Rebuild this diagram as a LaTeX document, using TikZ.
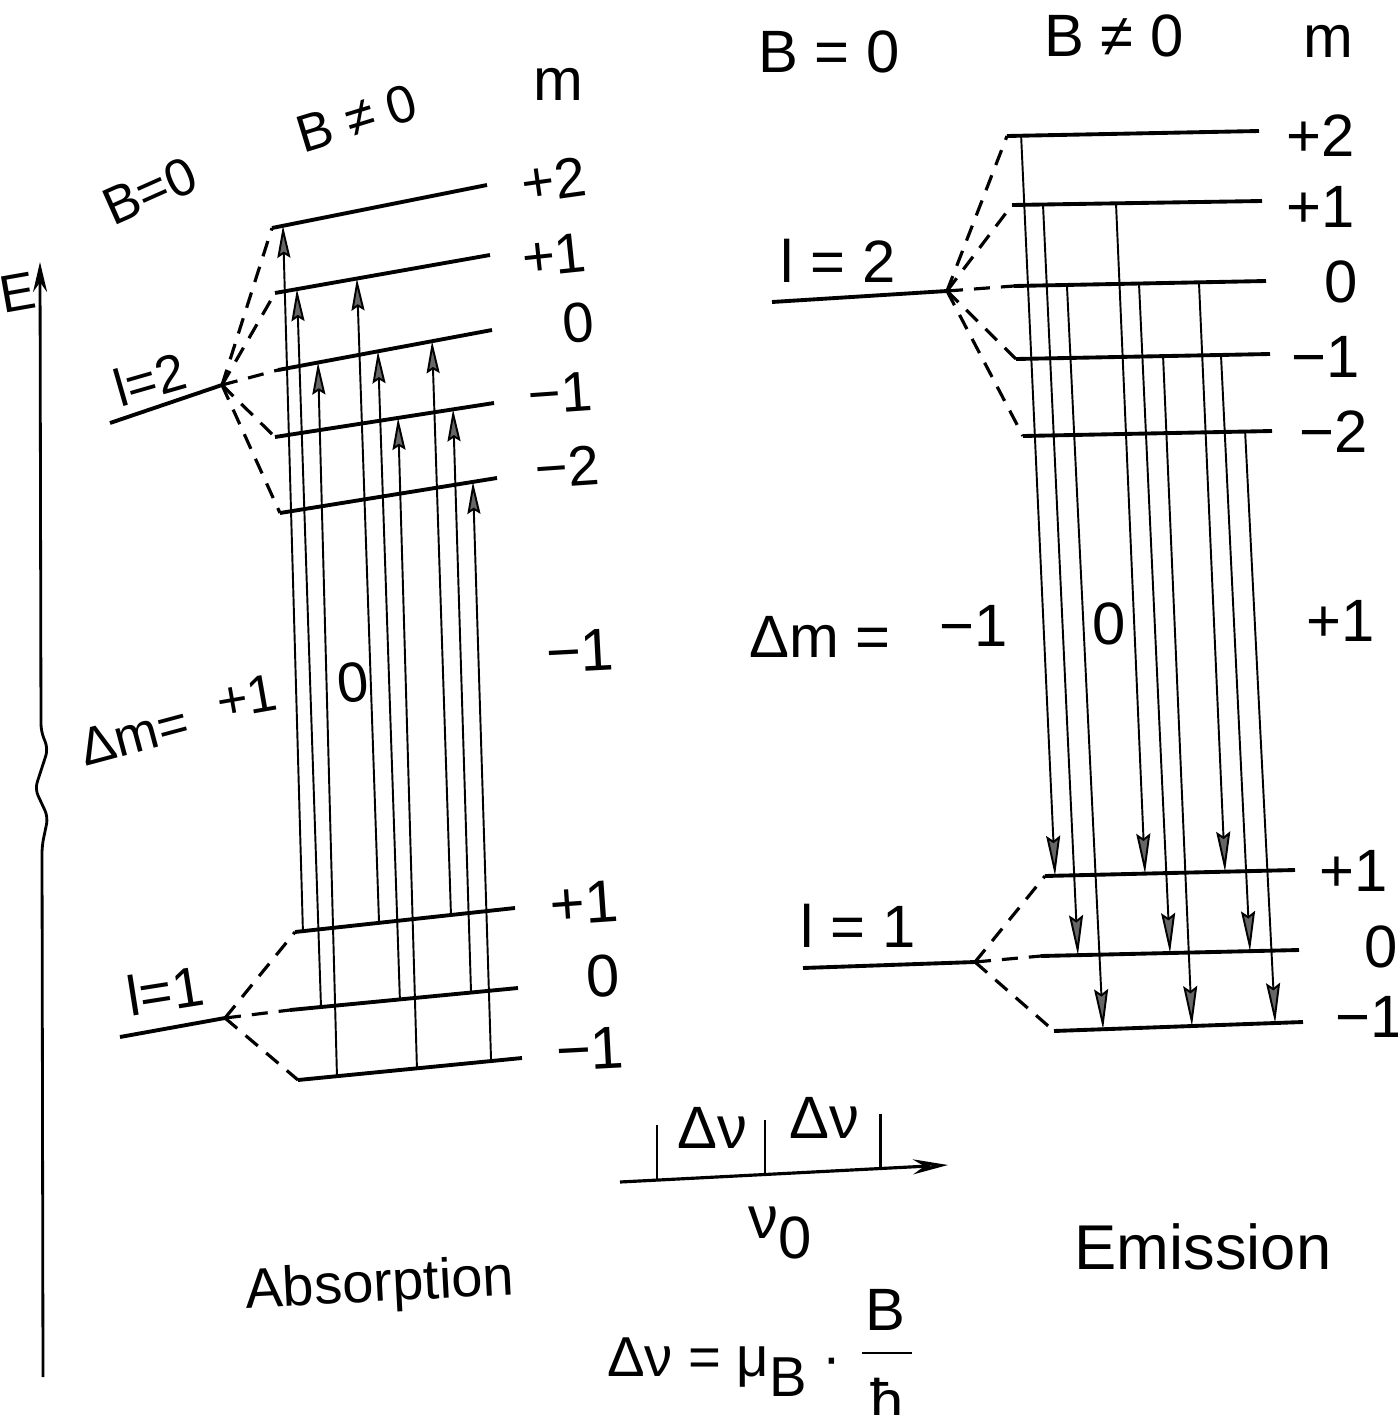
\documentclass[tikz,border=0pt]{standalone}
\usepackage{fontspec}
\setmainfont{Liberation Sans}
\usetikzlibrary{calc,arrows.meta}
\newcommand{\fsz}[1]{\fontsize{#1}{#1}\selectfont}

\begin{document}
\begin{tikzpicture}[x=0.01cm,y=0.01cm,
  level/.style={line width=1.1pt},
  split/.style={line width=0.9pt,dash pattern=on 1.6mm off 1.1mm},
  uparr/.style={line width=0.55pt,-{Stealth[length=3.2mm,width=1.3mm,inset=0.4mm,fill=black!60]}},
  dnarr/.style={line width=0.55pt,-{Stealth[length=4mm,width=1.4mm,inset=0.5mm,fill=black!60]}},
  lbl/.style={inner sep=0pt,font=\fsz{17}},
  lblm/.style={inner sep=0pt,font=\fsz{16}},
  lbls/.style={inner sep=0pt,font=\fsz{15}},
  lblb/.style={inner sep=0pt,font=\fsz{18}}]
  \useasboundingbox (0,0) rectangle (1398,-1415);

  % energy axis with break
  \coordinate (ebot) at (43,-1377);
  \coordinate (etop) at (40,-262);
  \draw[line width=0.8pt,-{Stealth[length=3mm,width=1.4mm]},rounded corners=2pt]
    (ebot) -- (42,-846) -- (48,-817) -- (35,-789) -- (48,-749) -- (41,-731) -- (etop);
  \node[lbls,rotate=10] (elab) at (18,-293) {E};

  % ---------- absorption ----------
  \coordinate (a2w) at (110,-423);   \coordinate (a2e) at (222,-385);
  \coordinate (a1w) at (120,-1037);  \coordinate (a1e) at (225,-1018);
  \coordinate (au2w) at (272,-228);  \coordinate (au2e) at (487,-185);
  \coordinate (au1w) at (275,-293);  \coordinate (au1e) at (490,-255);
  \coordinate (au0w) at (278,-370);  \coordinate (au0e) at (492,-330);
  \coordinate (aum1w) at (275,-437); \coordinate (aum1e) at (494,-403);
  \coordinate (aum2w) at (280,-513); \coordinate (aum2e) at (497,-478);
  \coordinate (al1w) at (295,-932);  \coordinate (al1e) at (515,-908);
  \coordinate (al0w) at (290,-1010); \coordinate (al0e) at (518,-988);
  \coordinate (alm1w) at (298,-1080); \coordinate (alm1e) at (522,-1058);

  \foreach \n in {a2,a1,au2,au1,au0,aum1,aum2,al1,al0,alm1}
    \draw[level] (\n w) -- (\n e);
  \foreach \n in {au2,au1,au0,aum1,aum2}
    \draw[split] (a2e) -- (\n w);
  \foreach \n in {al1,al0,alm1}
    \draw[split] (a1e) -- (\n w);

  \foreach \ia/\pa/\ib/\pb in {al1/0.036/au2/0.051, al0/0.136/au1/0.102, alm1/0.174/au0/0.187,
      al1/0.382/au1/0.381, al0/0.482/au0/0.467, alm1/0.531/aum1/0.562,
      al1/0.709/au0/0.72, al0/0.794/aum1/0.813, alm1/0.862/aum2/0.889}
    \draw[uparr] ($(\ia w)!\pa!(\ia e)$) -- ($(\ib w)!\pb!(\ib e)$);

  \node[lbls,rotate=24] (ab0) at (150,-191) {B=0};
  \node[lbls,rotate=17] (abn) at (357,-118) {B ≠ 0};
  \node[lbl] (am) at (558,-84) {m};
  \node[lblm,rotate=8] at (554,-180) {+2};
  \node[lblm,rotate=6] at (554,-255) {+1};
  \node[lblm,rotate=5] at (578,-323) {0};
  \node[lblm,rotate=4] at (560,-393) {−1};
  \node[lblm,rotate=4] at (567,-467) {−2};
  \node[lbls,rotate=16] (al2lab) at (150,-379) {l=2};
  \node[lbl,rotate=4] at (584,-903) {+1};
  \node[lbl,rotate=3] at (603,-976) {0};
  \node[lbl,rotate=3] at (590,-1049) {−1};
  \node[lblm,rotate=9] (al1lab) at (165,-990) {l=1};
  \node[lbls,rotate=15] (adm) at (134,-735) {Δm=};
  \node[lbls,rotate=10] at (247,-697) {+1};
  \node[lblm,rotate=6] at (353,-683) {0};
  \node[lbl,rotate=3] at (580,-651) {−1};
  \node[lblm,rotate=3] (abs) at (380,-1287) {Absorption};

  % ---------- emission ----------
  \coordinate (e2w) at (772,-302);   \coordinate (e2e) at (947,-291);
  \coordinate (e1w) at (803,-968);   \coordinate (e1e) at (975,-962);
  \coordinate (eu2w) at (1007,-136); \coordinate (eu2e) at (1259,-131);
  \coordinate (eu1w) at (1012,-205); \coordinate (eu1e) at (1262,-201);
  \coordinate (eu0w) at (1014,-286); \coordinate (eu0e) at (1266,-281);
  \coordinate (eum1w) at (1016,-359); \coordinate (eum1e) at (1270,-354);
  \coordinate (eum2w) at (1023,-436); \coordinate (eum2e) at (1272,-431);
  \coordinate (el1w) at (1045,-876); \coordinate (el1e) at (1295,-870);
  \coordinate (el0w) at (1041,-956); \coordinate (el0e) at (1299,-950);
  \coordinate (elm1w) at (1054,-1031); \coordinate (elm1e) at (1303,-1022);

  \foreach \n in {e2,e1,eu2,eu1,eu0,eum1,eum2,el1,el0,elm1}
    \draw[level] (\n w) -- (\n e);
  \foreach \n in {eu2,eu1,eu0,eum1,eum2}
    \draw[split] (e2e) -- (\n w);
  \foreach \n in {el1,el0,elm1}
    \draw[split] (e1e) -- (\n w);

  \foreach \ia/\pa/\ib/\pb in {eu2/0.056/el1/0.04, eu1/0.124/el0/0.143, eu0/0.21/elm1/0.197,
      eu1/0.416/el1/0.4, eu0/0.496/el0/0.5, eum1/0.579/elm1/0.554,
      eu0/0.734/el1/0.72, eum1/0.807/el0/0.81, eum2/0.892/elm1/0.888}
    \draw[dnarr] ($(\ia w)!\pa!(\ia e)$) -- ($(\ib w)!\pb!(\ib e)$);

  \node[lbl] (eb0) at (829,-52) {B = 0};
  \node[lbl] (ebn) at (1114,-36) {B ≠ 0};
  \node[lbl] (em) at (1328,-41) {m};
  \node[lbl] at (1321,-136) {+2};
  \node[lbl] at (1321,-207) {+1};
  \node[lbl] at (1341,-282) {0};
  \node[lbl] at (1326,-357) {−1};
  \node[lbl] at (1334,-432) {−2};
  \node[lbl] (el2lab) at (838,-261) {l = 2};
  \node[lbl] at (1354,-871) {+1};
  \node[lbl] at (1381,-947) {0};
  \node[lbl] at (1370,-1017) {−1};
  \node[lbl] (el1lab) at (858,-926) {l = 1};
  \node[lbl] (edm) at (820,-637) {Δm =};
  \node[lbl] at (974,-626) {−1};
  \node[lbl] at (1109,-624) {0};
  \node[lbl] at (1341,-621) {+1};
  \node[lblb] (emi) at (1203,-1247) {Emission};

  % ---------- frequency scale ----------
  \coordinate (f0) at (620,-1182);
  \coordinate (f1) at (948,-1165);
  \draw[line width=0.9pt,-{Stealth[length=3.5mm,width=1.5mm,fill=black!60]}] (f0) -- (f1);
  \foreach \p in {0.113,0.442,0.793}
    \draw[line width=0.8pt] ($(f0)!\p!(f1)$) -- ++(0,55);
  \node[lbl] (dn1) at (712,-1128) {Δν};
  \node[lbl] (dn2) at (824,-1118) {Δν};
  \node[lbl] (nu0) at (780,-1233) {ν\raisebox{-0.35em}{0}};
  \node[lblm,anchor=east] (frm) at (842,-1367) {Δν = μ\raisebox{-0.35em}{B} ·};
  \node[lbl] (fb) at (885,-1310) {B};
  \draw[line width=0.8pt] (862,-1353) -- (912,-1353);
  \node[lbl] (fh) at (887,-1400) {ħ};
\end{tikzpicture}
\end{document}
